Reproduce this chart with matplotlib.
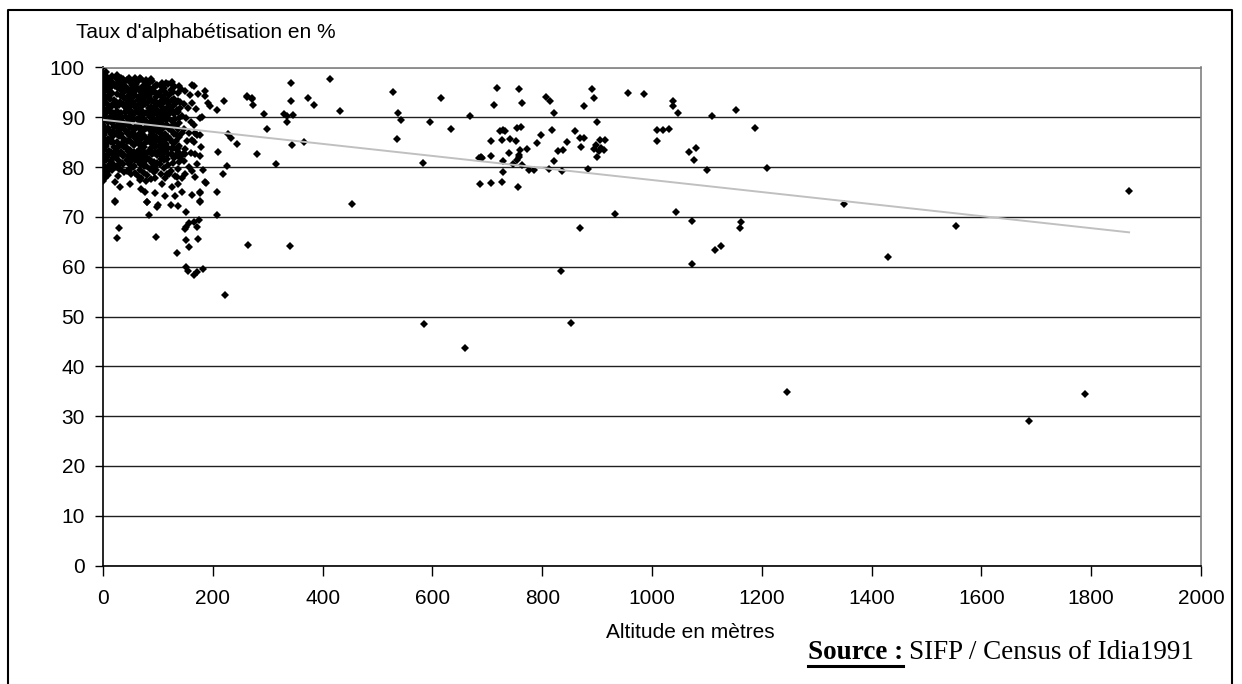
import numpy as np
import matplotlib
matplotlib.use('Agg')
import matplotlib.pyplot as plt
from matplotlib.lines import Line2D

# Dense cluster of low-altitude districts (altitude m, literacy %)
alt_core = [0, 1, 2, 0, 3, 1, 2, 0, 4, 1, 3, 0, 2, 1, 4, 0, 2, 1, 3, 0, 2, 1, 3, 0, 5,
            8, 12, 16, 7, 14, 19, 9, 17, 6, 12, 20, 10, 15, 7, 18, 12, 9, 16, 20, 6, 13, 18, 9, 15, 6, 20, 11, 17, 8, 14, 19, 10, 16, 7,
            24, 30, 36, 22, 28, 35, 40, 25, 32, 38, 23, 29, 36, 26, 33, 40, 22, 30, 37, 25, 33, 40, 22, 29, 36, 25, 32, 39, 23, 30, 37, 27, 34, 24, 31, 38, 28,
            44, 50, 56, 60, 42, 48, 54, 45, 52, 58, 43, 49, 56, 46, 53, 60, 42, 49, 57, 45, 52, 59, 43, 50, 57, 46, 54, 42, 49, 56, 45, 52, 59, 47, 55, 44, 51, 58,
            64, 70, 76, 62, 68, 74, 80, 65, 72, 78, 63, 70, 77, 66, 73, 80, 62, 69, 76, 65, 72, 79, 63, 70, 77, 66, 74, 62, 69, 76, 64, 72, 79, 67, 75, 63, 70, 78,
            84, 90, 96, 82, 88, 94, 100, 85, 92, 98, 83, 89, 96, 86, 93, 100, 84, 91, 98, 87, 94, 82, 89, 97, 85, 92, 99, 83, 90, 96, 86, 93, 81, 88, 95,
            105, 112, 118, 103, 110, 116, 102, 108, 115, 120, 104, 111, 118, 106, 113, 120, 103, 109, 116, 105, 112, 119, 102, 108, 115, 104, 111, 118, 106, 113, 120,
            124, 130, 136, 142, 126, 133, 140, 123, 129, 137, 144, 125, 132, 139, 127, 134, 143, 122, 130, 138, 125, 133, 141, 128, 136, 124, 131, 144,
            150, 158, 147, 155, 162, 169, 152, 160, 148, 157, 166, 153, 172, 150, 160, 178, 147, 156, 171, 163, 149, 182]
lit_core = [100, 98.5, 97.5, 96.5, 95.5, 94.5, 93.5, 92.5, 91.5, 90.5, 89.5, 88.5, 87.5, 86.5, 85.5, 84.5, 83.5, 82.5, 81.5, 80.5, 79.5, 78.5, 77.8, 77.2, 79,
            98, 97.6, 98.2, 96.8, 96, 96.9, 95.2, 94.8, 94, 93.7, 93.4, 92.5, 92, 91, 90.8, 90, 89, 88.8, 88, 87.6, 87, 86.2, 85.6, 85, 84.2, 84, 83.2, 82.7, 82, 81.3, 80.6, 80, 79.4, 78.6,
            97.8, 97.3, 97.6, 96.2, 95.8, 96.4, 95.6, 94.6, 94.2, 93.9, 93, 92.4, 92.6, 91.3, 90.9, 91, 90, 89.5, 89.1, 88.3, 87.9, 87.4, 86.8, 86.2, 85.8, 85, 84.4, 84, 83.3, 82.8, 82.2, 81.4, 80.9, 80.1, 79.6, 79.1, 78.3,
            97.5, 97.1, 97.4, 96.6, 96, 95.4, 95.8, 94.3, 93.9, 94.5, 92.8, 92.3, 92.7, 91.2, 90.7, 91.3, 90.1, 89.4, 89.6, 88.4, 87.8, 88.1, 86.9, 86.3, 86.6, 85.2, 84.7, 84, 83.4, 83.1, 82.3, 81.7, 81.5, 80.6, 80.1, 79.3, 78.6, 78.9,
            97.2, 97.6, 97, 95.9, 95.2, 95.7, 96.2, 94, 93.6, 94.3, 92.4, 92, 92.6, 90.9, 90.4, 90.8, 89.6, 89, 89.3, 87.9, 87.3, 87.8, 86.2, 85.7, 86, 84.6, 84.1, 83.1, 82.6, 82.3, 81.2, 80.8, 80.3, 79.4, 78.8, 78.2, 77.8, 77.2,
            96.8, 97.2, 96.4, 95.3, 94.8, 95.1, 94.6, 93.5, 93.1, 92.6, 91.8, 91.2, 90.8, 90, 89.4, 89.8, 88.4, 87.8, 87.2, 86.5, 86, 85.3, 84.7, 84.2, 83.4, 82.8, 82.5, 81.6, 80.9, 80.4, 79.7, 79, 78.4, 77.6, 77.9,
            96.3, 95.8, 96.6, 94.4, 94, 93.5, 92.6, 92.1, 91.6, 92.4, 90.6, 90.2, 89.8, 88.7, 88.2, 87.6, 87, 86.3, 85.9, 84.9, 84.5, 83.9, 83.2, 82.3, 81.7, 80.6, 79.8, 80.5, 78.7, 77.9, 78.6,
            95.4, 96, 94.8, 95.6, 93.4, 92.8, 93.1, 91.4, 90.6, 91, 90.3, 89.2, 88.5, 88.9, 87.1, 86.4, 86.8, 85.6, 84.9, 84.3, 83.6, 82.4, 81.8, 80.9, 79.6, 79.3, 78.2, 77.8,
            95.2, 94.4, 92.6, 91.8, 92.9, 91.6, 89.9, 89.1, 87.7, 86.9, 88.4, 85.3, 86.5, 83.7, 82.9, 84.1, 81.2, 80.1, 80.6, 79.3, 78.6, 79.5]

# More districts inside the same cluster (they overlap in the picture)
alt_core2 = [3, 6, 10, 14, 4, 9, 14, 18, 3, 8, 13, 17, 4, 10, 15, 19, 4, 8, 13, 18, 5, 10, 14, 18, 5, 12, 17, 9,
             26, 33, 39, 27, 32, 37, 24, 31, 38, 24, 28, 35, 27, 31, 38, 25, 33, 39, 27, 35, 24, 33, 39, 27, 36, 30,
             47, 53, 58, 45, 51, 57, 46, 54, 59, 44, 50, 57, 47, 54, 43, 50, 56, 46, 53, 59, 44, 51, 57, 46, 53, 58, 43, 49, 55, 51, 57,
             67, 73, 79, 65, 71, 77, 63, 69, 75, 80, 64, 71, 78, 65, 72, 79, 63, 68, 76, 66, 73, 80, 63, 70, 77, 67, 73, 79, 65, 71, 78, 68, 75,
             87, 93, 99, 85, 91, 97, 83, 89, 95, 87, 93, 99, 84, 90, 97, 87, 94, 100, 83, 90, 97, 85, 92, 99, 87, 94, 83, 89, 96, 86, 93, 99, 89, 96,
             108, 115, 106, 114, 120, 105, 112, 118, 107, 114, 120, 102, 109, 115, 103, 110, 117, 106, 113, 119, 103, 109, 115, 106, 113, 119, 111, 117, 105,
             128, 139, 130, 136, 127, 134, 141, 131, 138, 126, 136, 129, 139, 133, 127, 135, 124, 130, 138]
lit_core2 = [97, 99, 96.3, 97, 93, 94, 94.6, 92.6, 90, 91.5, 91.2, 89.6, 87, 87.8, 86.6, 87.2, 84, 84.8, 85.4, 85, 81.5, 82.6, 83, 81.8, 79.8, 80.6, 80.2, 79.2,
             98.5, 97.9, 97, 96.9, 95.4, 94.8, 92.2, 93.1, 92.3, 89.5, 90.7, 90.1, 87.2, 88.8, 88.4, 86.7, 86.6, 85.3, 84.1, 84.7, 82, 83, 82.4, 80.5, 80.6, 79.7,
             97.9, 96.4, 97.8, 95.2, 94.8, 95.1, 93.3, 93.1, 92.1, 91.6, 91.5, 90.6, 90, 89.7, 88.9, 88.1, 87.5, 87, 86.7, 85.9, 85.3, 85, 84.5, 83.3, 82.7, 82.2, 81.4, 81, 81.9, 79.8, 80.3,
             97.9, 96.3, 97.4, 95.6, 94.6, 94.9, 93.4, 93, 93.2, 92.9, 91.4, 91.2, 90.8, 89.9, 89.6, 89.2, 88.3, 88.1, 87.9, 86.7, 86.5, 85.2, 85, 84.6, 84.9, 83.6, 83.2, 82.9, 82, 81.8, 81.5, 80.6, 80.3,
             97.6, 96, 96.5, 95.6, 95, 94, 94, 93.3, 93.3, 92, 91.8, 91.5, 90.7, 90.2, 89.2, 89, 88.4, 88.1, 87.6, 86.8, 86.1, 85.8, 85.3, 85.5, 83.9, 84.1, 83, 82.6, 82.9, 81.5, 81, 80.9, 79.8, 79.4,
             96.9, 96.9, 95.3, 94.8, 94.4, 93.2, 93, 92.9, 91.4, 91, 90.7, 89.9, 89.5, 89.4, 88.7, 87.9, 88.4, 86.7, 86.6, 86, 85.7, 85.3, 84.6, 83.8, 83.4, 82.7, 81.4, 81.6, 81.6,
             95.1, 96.2, 93.6, 93.2, 92.2, 91.5, 91.9, 89.7, 89.8, 88.3, 87.6, 86.7, 86.1, 85.3, 84.1, 83.5, 82.6, 81.9, 81.1]

# Scattered points below 300 m
alt_low = [165, 173, 186, 186, 192, 195, 207, 220, 262, 271, 274, 125, 128, 163, 180, 177, 228, 234, 244, 168, 177, 210, 280, 225,
           218, 186, 207, 177, 177, 146, 137, 168, 177, 162, 165, 263, 272, 294, 298, 22, 26, 29, 84, 96, 98, 81, 123, 137,
           151, 135, 151, 150, 157, 151, 157, 171, 166, 174, 173, 177, 177, 187, 207, 222, 152, 154, 165, 172, 183, 265,
           10, 22, 31, 49, 67, 70, 77, 95, 107, 125, 137, 22, 80, 101, 113, 131, 143, 162, 168, 116, 134, 149, 125, 110,
           140, 95, 104, 116, 125, 137]
lit_low = [96.3, 94.7, 95.2, 94.2, 92.8, 92.3, 91.4, 93.3, 94.1, 93.6, 92.5, 97.1, 96.5, 96.5, 90.1, 89.8, 86.6, 85.8, 84.6, 86.8, 86.4, 83.1, 82.6, 80.3,
           78.6, 77.0, 74.9, 74.8, 73.1, 82.6, 82.6, 82.6, 82.2, 85.4, 85.1, 94.3, 93.9, 90.7, 87.7, 73.1, 65.8, 67.7, 70.4, 66.0, 72.0, 72.9, 72.3, 72.2,
           71.0, 62.8, 68.0, 67.6, 68.8, 65.3, 64.0, 68.0, 69.0, 69.4, 65.6, 73.0, 75.0, 76.9, 70.4, 54.3, 59.9, 59.1, 58.3, 59.0, 59.6, 64.4,
           78.4, 77.1, 76.1, 76.7, 77.4, 75.7, 75.1, 74.7, 76.7, 76.1, 76.7, 73.0, 73.0, 72.4, 74.1, 74.1, 75.1, 74.4, 78.1, 78.6, 78.1, 82.6, 82.6, 82.6,
           82.6, 85.4, 84.4, 86.1, 85.1, 83.8]

# Districts at 300 m and above
alt_high = [316, 343, 342, 329, 335, 346, 335, 345, 367, 374, 384, 413, 432, 453, 341, 528, 538, 542, 535, 596, 616, 634, 583, 669,
            685, 688, 691, 706, 706, 687, 706, 713, 718, 758, 764, 723, 728, 732, 727, 741, 752, 754, 762, 740, 729, 755, 757,
            760, 758, 746, 764, 728, 727, 756, 772, 776, 785, 790, 798, 807, 814, 817, 821, 812, 821, 828, 838, 845, 836, 860,
            868, 876, 871, 877, 891, 894, 899, 883, 905, 914, 898, 894, 908, 913, 899, 904, 957, 985, 1009, 1020, 1031, 1009,
            1039, 1039, 1047, 1067, 1081, 1076, 1100, 1109, 1153, 1188, 1209, 933, 1044, 1073, 1163, 1160, 869, 1114, 1125,
            835, 1072, 584, 660, 852, 1349, 1430, 1553, 1869, 1245, 1687, 1788]
lit_high = [80.7, 96.8, 93.3, 90.7, 90.2, 90.4, 89.0, 84.5, 85.1, 93.8, 92.5, 97.6, 91.2, 72.6, 64.2, 95.1, 90.9, 89.4, 85.6, 89.1, 93.8, 87.6, 80.8, 90.3,
            81.9, 82.0, 81.8, 82.3, 85.3, 76.6, 76.9, 92.5, 95.8, 95.7, 92.9, 87.3, 87.4, 87.2, 85.5, 85.7, 85.2, 87.8, 88.0, 82.9, 81.3, 81.5, 82.5,
            83.5, 82.0, 80.6, 80.4, 79.0, 77.0, 76.0, 83.7, 79.4, 79.4, 84.8, 86.5, 94.0, 93.2, 87.4, 90.9, 79.6, 81.2, 83.3, 83.5, 85.1, 79.2, 87.3,
            85.9, 85.9, 84.0, 92.3, 95.7, 93.9, 89.0, 79.7, 85.5, 85.5, 84.5, 83.7, 83.8, 83.5, 82.1, 83.3, 94.8, 94.6, 87.4, 87.4, 87.6, 85.2,
            93.2, 92.2, 90.9, 83.1, 83.8, 81.5, 79.4, 90.2, 91.4, 87.9, 79.8, 70.6, 70.9, 69.2, 69.0, 67.7, 67.7, 63.4, 64.1,
            59.1, 60.5, 48.4, 43.7, 48.6, 72.5, 62.0, 68.2, 75.3, 34.9, 29.1, 34.5]

# Linear trend line
trend_x = [0, 1869]
trend_y = [89.5, 66.9]

x_ticks = list(range(0, 2001, 200))
y_ticks = list(range(0, 101, 10))

plt.rcParams['font.family'] = ['Liberation Sans', 'DejaVu Sans']

fig = plt.figure(figsize=(12.42, 6.84), dpi=100)
W, H = 1242.0, 684.0
ax = fig.add_axes([103 / W, 1 - 565.5 / H, 1098 / W, 498 / H])

alt = alt_core + alt_core2 + alt_low + alt_high
lit = lit_core + lit_core2 + lit_low + lit_high
ax.plot(alt, lit, linestyle='none', marker='D', markersize=3.7, markeredgewidth=0,
        color='black', zorder=3)
ax.plot(trend_x, trend_y, color='#c0c0c0', linewidth=1.4, zorder=4)

ax.set_xlim(0, 2000)
ax.set_ylim(0, 100)
ax.set_xticks(x_ticks)
ax.set_yticks(y_ticks)
ax.yaxis.grid(True, color='#202020', linewidth=1.0)
ax.set_axisbelow(True)
ax.tick_params(axis='both', labelsize=15, color='black', direction='out')
ax.tick_params(axis='x', length=7, width=1.0, pad=10)
ax.tick_params(axis='y', length=6, width=1.0, pad=7)
for side in ['top', 'right']:
    ax.spines[side].set_color('#808080')
    ax.spines[side].set_linewidth(1.2)
for side in ['left', 'bottom']:
    ax.spines[side].set_color('black')
    ax.spines[side].set_linewidth(1.2)

# Axis captions
fig.text(76 / W, 1 - 33 / H, "Taux d'alphabétisation en %", fontsize=15, ha='left', va='center')
fig.text(690 / W, 1 - 633 / H, "Altitude en mètres", fontsize=15, ha='center', va='center')

# Source note: bold underlined label + regular text
serif = ['Liberation Serif', 'DejaVu Serif']
t1 = fig.text(808 / W, 1 - 659 / H, "Source :", fontsize=19.5, fontweight='bold',
              family=serif, ha='left', va='baseline')
fig.canvas.draw()
bb = t1.get_window_extent()
fig.text(bb.x1 / W + 6 / W, 1 - 659 / H, "SIFP / Census of Idia1991", fontsize=19.5,
         family=serif, ha='left', va='baseline')
uy = 1 - 665.5 / H
fig.add_artist(Line2D([bb.x0 / W, bb.x1 / W], [uy, uy], color='black', linewidth=2.2,
                      transform=fig.transFigure))

# Outer chart frame
fx0, fx1, fy0 = 7.5 / W, 1232 / W, 1 - 10 / H
fig.add_artist(Line2D([fx0, fx0, fx1, fx1], [0, fy0, fy0, 0], color='black',
                      linewidth=1.5, transform=fig.transFigure))

fig.savefig('out.png', dpi=100)
